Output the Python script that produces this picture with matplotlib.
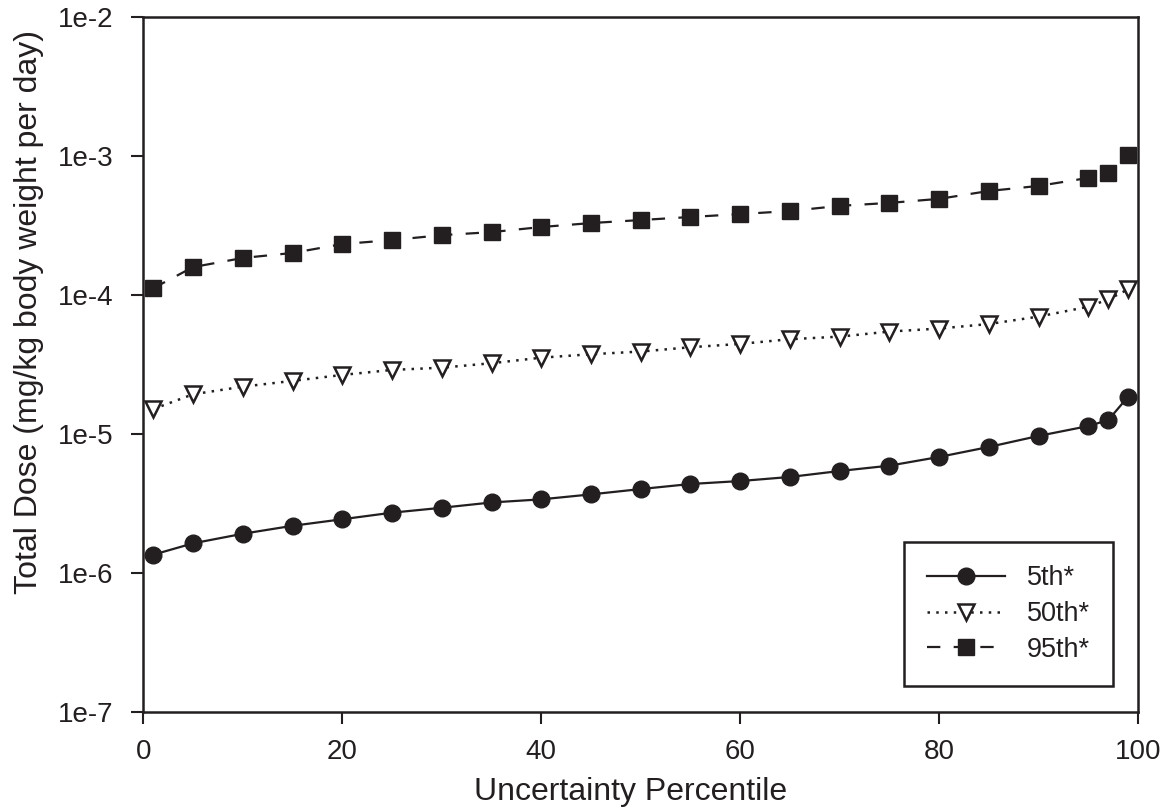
import matplotlib
matplotlib.use("Agg")
import matplotlib.pyplot as plt
import matplotlib.ticker as mtick

plt.rcParams["font.family"] = ["Liberation Sans", "DejaVu Sans"]

INK = "#231f20"

# uncertainty percentiles on the x axis
percentiles = [1, 5, 10, 15, 20, 25, 30, 35, 40, 45, 50,
               55, 60, 65, 70, 75, 80, 85, 90, 95, 97, 99]

# total dose (mg/kg body weight per day) for each exposure percentile
dose_5th = [1.35e-6, 1.63e-6, 1.91e-6, 2.18e-6, 2.43e-6, 2.71e-6, 2.94e-6, 3.21e-6,
            3.38e-6, 3.67e-6, 4.01e-6, 4.36e-6, 4.58e-6, 4.90e-6, 5.41e-6, 5.91e-6,
            6.83e-6, 8.06e-6, 9.68e-6, 1.14e-5, 1.26e-5, 1.86e-5]
dose_50th = [1.51e-5, 1.93e-5, 2.19e-5, 2.41e-5, 2.66e-5, 2.89e-5, 3.00e-5, 3.23e-5,
             3.54e-5, 3.75e-5, 3.92e-5, 4.21e-5, 4.45e-5, 4.81e-5, 5.02e-5, 5.46e-5,
             5.74e-5, 6.19e-5, 7.00e-5, 8.25e-5, 9.32e-5, 1.10e-4]
dose_95th = [1.12e-4, 1.59e-4, 1.85e-4, 2.01e-4, 2.33e-4, 2.49e-4, 2.70e-4, 2.84e-4,
             3.09e-4, 3.30e-4, 3.47e-4, 3.65e-4, 3.83e-4, 4.03e-4, 4.39e-4, 4.61e-4,
             4.93e-4, 5.62e-4, 6.11e-4, 6.98e-4, 7.59e-4, 1.02e-3]

y_ticks = [1e-7, 1e-6, 1e-5, 1e-4, 1e-3, 1e-2]
y_tick_labels = ["1e-7", "1e-6", "1e-5", "1e-4", "1e-3", "1e-2"]
x_ticks = [0, 20, 40, 60, 80, 100]

fig = plt.figure(figsize=(11.65, 8.1), dpi=100)
ax = fig.add_axes([0.123, 0.1214, 0.854, 0.8572])

ax.plot(percentiles, dose_5th, color=INK, linewidth=1.6, linestyle="-",
        marker="o", markersize=12, markerfacecolor=INK, markeredgecolor=INK,
        label="5th*")
ax.plot(percentiles, dose_50th, color=INK, linewidth=1.8, linestyle=(0, (1, 2.5)),
        marker="v", markersize=12, markerfacecolor="white", markeredgecolor=INK,
        markeredgewidth=1.8, label="50th*")
ax.plot(percentiles, dose_95th, color=INK, linewidth=1.6, linestyle=(0, (6, 6)),
        marker="s", markersize=12, markerfacecolor=INK, markeredgecolor=INK,
        label="95th*")

ax.set_yscale("log")
ax.set_ylim(1e-7, 1e-2)
ax.set_xlim(0, 100)
ax.set_yticks(y_ticks)
ax.set_yticklabels(y_tick_labels)
ax.yaxis.set_minor_locator(mtick.NullLocator())
ax.set_xticks(x_ticks)

ax.tick_params(axis="both", direction="out", length=8.5, width=1.5,
               color=INK, labelcolor=INK, labelsize=20)
ax.tick_params(axis="y", pad=13)
ax.tick_params(axis="x", pad=11)
for side in ax.spines.values():
    side.set_linewidth(1.8)
    side.set_color(INK)

ax.set_xlabel("Uncertainty Percentile", fontsize=23, color=INK)
ax.set_ylabel("Total Dose (mg/kg body weight per day)", fontsize=23, color=INK)
ax.xaxis.set_label_coords(0.49, -0.094)
ax.yaxis.set_label_coords(-0.1, 0.576)

leg = ax.legend(loc="lower right", bbox_to_anchor=(0.9746, 0.037), fontsize=19.5,
                handlelength=2.9, handletextpad=0.8, borderpad=0.85,
                labelspacing=0.36, fancybox=False, framealpha=1, borderaxespad=0)
leg.get_frame().set_edgecolor(INK)
leg.get_frame().set_linewidth(1.8)
for t in leg.get_texts():
    t.set_color(INK)

fig.savefig("out.png", dpi=100)
